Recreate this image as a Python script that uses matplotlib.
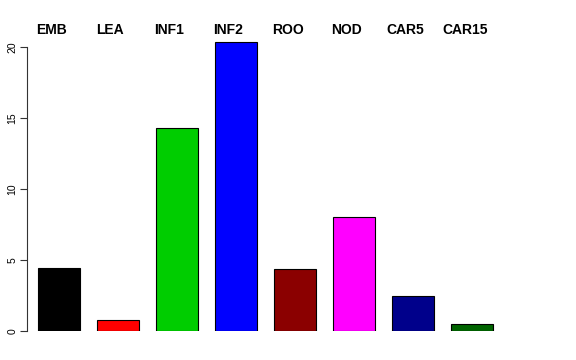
import matplotlib
matplotlib.use("Agg")
import matplotlib.pyplot as plt
import numpy as np

plt.rcParams['font.family'] = ['Liberation Sans', 'DejaVu Sans']

# data
tissues = ['EMB', 'LEA', 'INF1', 'INF2', 'ROO', 'NOD', 'CAR5', 'CAR15']
values = [4.45, 0.78, 14.3, 20.35, 4.38, 8.03, 2.45, 0.48]
colors = ['#000000', '#FF0000', '#00CD00', '#0000FF',
          '#8B0000', '#FF00FF', '#00008B', '#006400']
yticks = [0, 5, 10, 15, 20]

W, H = 576, 360
fig = plt.figure(figsize=(W / 100, H / 100), dpi=100)
# axes placed in pixel terms (R barplot style)
left_px, right_px = 27, 560
bottom_px = 29
ppu_y = 14.2
ymax = 21
ax = fig.add_axes([left_px / W, bottom_px / H,
                   (right_px - left_px) / W, ymax * ppu_y / H])

x = 0.7 + 1.2 * np.arange(len(values))
ax.bar(x, values, width=0.85, color=colors, edgecolor='black', linewidth=0.8)

ppu_x = 49.2
ax.set_xlim(0.7 - (59 - left_px) / ppu_x, 0.7 + (right_px - 59) / ppu_x)
ax.set_ylim(0, ymax)

# labels above the bars
for xi, name in zip(x, tissues):
    ax.text(xi - 0.155, (331 - 30) / ppu_y, name, ha='center', va='center',
            fontsize=10, fontweight='bold', clip_on=False)

for s in ['top', 'right', 'bottom']:
    ax.spines[s].set_visible(False)
ax.spines['left'].set_bounds(0, 20)
ax.spines['left'].set_linewidth(0.8)
ax.spines['left'].set_color('#333333')
ax.set_xticks([])
ax.set_yticks(yticks)
ax.set_yticklabels([str(t) for t in yticks], rotation=90, va='center',
                   fontsize=7.5)
ax.tick_params(axis='y', length=5, width=0.8, color='#333333', pad=2)

fig.savefig('out.png', dpi=100)
